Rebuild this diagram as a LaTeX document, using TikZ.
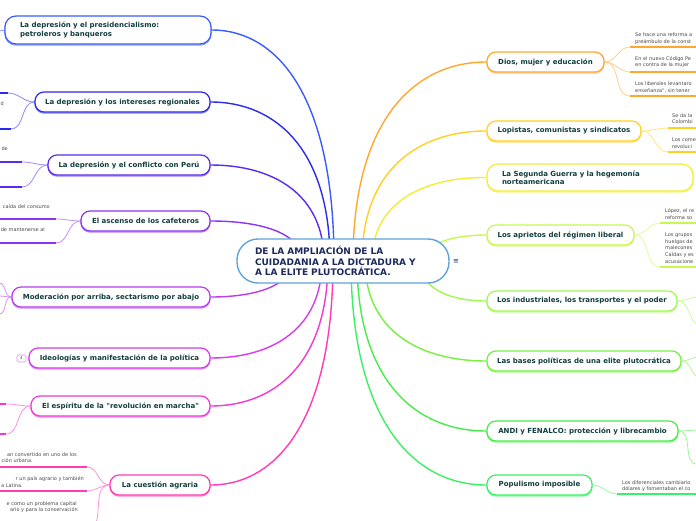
\documentclass[tikz,border=0pt]{standalone}
\usepackage{fontspec}
\setmainfont{DejaVu Sans}
\newfontfamily\dvs{DejaVu Sans}
\usetikzlibrary{calc}
\pgfdeclarelayer{bg}
\pgfsetlayers{bg,main}
\definecolor{txt}{HTML}{123E3E}
\definecolor{navy}{HTML}{1C2A5E}
\definecolor{subtxt}{HTML}{4A4A4A}
\definecolor{cC}{HTML}{5FA3DC}
\definecolor{cLa}{HTML}{3A5CFF}
\definecolor{cLb}{HTML}{2B2BEE}
\definecolor{cLc}{HTML}{5A2BEE}
\definecolor{cLd}{HTML}{8A35F0}
\definecolor{cLe}{HTML}{B83CF0}
\definecolor{cLf}{HTML}{D83AF0}
\definecolor{cLg}{HTML}{F03AD8}
\definecolor{cLh}{HTML}{FF3CB4}
\definecolor{cRa}{HTML}{FFA830}
\definecolor{cRb}{HTML}{FFD020}
\definecolor{cRc}{HTML}{F4EC3A}
\definecolor{cRd}{HTML}{C8F850}
\definecolor{cRe}{HTML}{A0F850}
\definecolor{cRf}{HTML}{78F040}
\definecolor{cRg}{HTML}{48EC48}
\definecolor{cRh}{HTML}{3CF064}
\tikzset{
  mn/.style={draw=#1, line width=1.2pt, rounded corners=9pt, fill=white, inner sep=0pt,
    minimum height=20pt, text=txt, font=\dvs\bfseries\fontsize{7}{8.3}\selectfont,
    preaction={draw=#1!60, line width=1.3pt, transform canvas={yshift=-1pt}}},
  twoline/.style={text width=176pt, align=left, inner xsep=15pt, minimum height=28pt, rounded corners=11pt},
  cn/.style={draw=#1, line width=1.4pt},
  sc/.style={draw=#1!55, line width=0.8pt},
  ul/.style={draw=#1, line width=1.8pt},
  st/.style={text=subtxt, font=\dvs\fontsize{5}{6.3}\selectfont, inner sep=0pt},
}
\begin{document}
\begin{tikzpicture}[x=1pt,y=-1pt]
\useasboundingbox (0,0) rectangle (696,520);

% central node
\node[draw=cC, line width=1.4pt, rounded corners=21pt, fill=white, minimum width=212pt,
  minimum height=44pt, text width=176pt, inner xsep=18pt, inner ysep=0pt, align=left,
  font=\dvs\bfseries\fontsize{9}{10.8}\selectfont, text=navy] (C) at (343,261)
  {DE LA AMPLIACIÓN DE LA\\CUIDADANIA A LA DICTADURA Y\\A LA ELITE PLUTOCRÁTICA.};
\node[text=navy, font=\dvs\fontsize{7}{7}\selectfont, inner sep=0pt] (menu) at (456,262) {≡};

% left main nodes
\node[mn=cLa, twoline] (L1) at (108,30) {La depresión y el presidencialismo:\\petroleros y banqueros};
\node[mn=cLb, minimum width=175pt] (L2) at (122.5,102) {La depresión y los intereses regionales};
\node[mn=cLc, minimum width=162pt] (L3) at (129,165) {La depresión y el conflicto con Perú};
\node[mn=cLd, minimum width=129pt] (L4) at (145.5,221) {El ascenso de los cafeteros};
\node[mn=cLe, minimum width=198pt] (L5) at (111,297) {Moderación por arriba, sectarismo por abajo};
\node[mn=cLf, minimum width=181pt] (L6) at (119.5,358) {Ideologías y manifestación de la política};
\node[mn=cLg, minimum width=179pt] (L7) at (120.5,406) {El espíritu de la "revolución en marcha"};
\node[mn=cLh, minimum width=100pt] (L8) at (160,485) {La cuestión agraria};
\node[draw=cLf!60, line width=0.6pt, rounded corners=1.5pt, minimum width=9pt, minimum height=7pt,
  inner sep=0pt, font=\dvs\fontsize{4}{4}\selectfont, text=subtxt] (n4) at (21.5,358.5) {4};

% right main nodes
\node[mn=cRa, minimum width=117pt] (R1) at (545.5,62) {Dios, mujer y educación};
\node[mn=cRb, minimum width=154pt] (R2) at (564,131) {Lopistas, comunistas y sindicatos};
\node[mn=cRc, twoline, minimum height=27pt] (R3) at (590,177.5) {La Segunda Guerra y la hegemonía\\norteamericana};
\node[mn=cRd, minimum width=147pt] (R4) at (560.5,235) {Los aprietos del régimen liberal};
\node[mn=cRe, minimum width=190pt] (R5) at (582,301) {Los industriales, los transportes y el poder};
\node[mn=cRf, minimum width=194pt] (R6) at (584,361) {Las bases políticas de una elite plutocrática};
\node[mn=cRg, minimum width=191pt] (R7) at (582.5,431) {ANDI y FENALCO: protección y librecambio};
\node[mn=cRh, minimum width=105pt] (R8) at (539.5,485) {Populismo imposible};

% sub-topic texts, left
\node[st, anchor=base east] (tl2) at (4,105) {d};
\node[st, anchor=base east] (tl3) at (8,150) {de};
\node[st, anchor=base east] (tl4a) at (50,208) {caída del consumo};
\node[st, anchor=base east] (tl4b) at (45,231) {de mantenerse al};
\node[st, anchor=base east] (tl8a) at (77,456) {an convertido en uno de los};
\node[st, anchor=base east] (tl8b) at (33,462) {ción urbana.};
\node[st, anchor=base east] (tl8c) at (84,480) {r un país agrario y también};
\node[st, anchor=base east] (tl8d) at (23,487) {a Latina.};
\node[st, anchor=base east] (tl8e) at (77,505) {e como un problema capital};
\node[st, anchor=base east] (tl8f) at (78,511) {ario y para la conservación};

% sub-topic texts, right
\node[st, anchor=base west] (tr1a) at (635,36) {Se hace una reforma a};
\node[st, anchor=base west] (tr1b) at (635,43) {preámbulo de la const};
\node[st, anchor=base west] (tr1c) at (635,60) {En el nuevo Código Pe};
\node[st, anchor=base west] (tr1d) at (635,66) {en contra de la mujer};
\node[st, anchor=base west] (tr1e) at (635,85) {Los liberales levantaro};
\node[st, anchor=base west] (tr1f) at (635,92) {enseñanza", sin tener};
\node[st, anchor=base west] (tr2a) at (672,117) {Se da la};
\node[st, anchor=base west] (tr2b) at (672,123) {Colombi};
\node[st, anchor=base west] (tr2c) at (672,141) {Los come};
\node[st, anchor=base west] (tr2d) at (672,148) {revoluci};
\node[st, anchor=base west] (tr4a) at (665,212) {López, el re};
\node[st, anchor=base west] (tr4b) at (665,219) {reforma so};
\node[st, anchor=base west] (tr4c) at (665,236) {Los grupos};
\node[st, anchor=base west] (tr4d) at (665,243) {huelgas de};
\node[st, anchor=base west] (tr4e) at (665,249) {malecones};
\node[st, anchor=base west] (tr4f) at (665,256) {Caldas y es};
\node[st, anchor=base west] (tr4g) at (665,263) {acusacione};
\node[st, anchor=base west] (tr8a) at (622,484) {Los diferenciales cambiario};
\node[st, anchor=base west] (tr8b) at (622,490) {dólares y fomentaban el co};

% coordinates
\coordinate (s1) at (334,261); \coordinate (s2) at (330,261);
\coordinate (s3) at (324,261); \coordinate (s4) at (302,261);
\coordinate (s5) at (292,261); \coordinate (s6) at (322,261);
\coordinate (s7) at (328,261); \coordinate (s8) at (333,261);
\coordinate (q1) at (353,261); \coordinate (q2) at (362,261);
\coordinate (q3) at (372,261); \coordinate (q4) at (425,261);
\coordinate (q5) at (420,261); \coordinate (q6) at (365,261);
\coordinate (q7) at (357,261); \coordinate (q8) at (351,261);

\coordinate (l1x) at (-2,30);
\coordinate (l2a) at (8,93); \coordinate (l2b) at (11,129);
\coordinate (l3a) at (22,162); \coordinate (l3b) at (22,187);
\coordinate (l4a) at (56,219); \coordinate (l4b) at (56,243);
\coordinate (l5a) at (-1,283); \coordinate (l5b) at (-1,296); \coordinate (l5c) at (-1,314);
\coordinate (l7a) at (6,404); \coordinate (l7b) at (6,434);
\coordinate (l8a) at (87,467); \coordinate (l8b) at (87,491); \coordinate (l8c) at (87,530);
\coordinate (r1a) at (630,47); \coordinate (r1b) at (630,72); \coordinate (r1c) at (630,96);
\coordinate (r2a) at (668,128); \coordinate (r2b) at (668,152);
\coordinate (r4a) at (660,223); \coordinate (r4b) at (660,267);
\coordinate (r5a) at (699,297); \coordinate (r5b) at (701,325);
\coordinate (r6a) at (699,357); \coordinate (r6b) at (701,378);
\coordinate (r7a) at (699,430); \coordinate (r7b) at (697,464);
\coordinate (r8a) at (617,494);

\begin{pgfonlayer}{bg}
\fill[white] (0,0) rectangle (696,520);
% main connectors
\draw[cn=cLa] (s1) .. controls (334,99) and (279,30) .. (L1.east);
\draw[cn=cLb] (s2) .. controls (330,150) and (276,102) .. (L2.east);
\draw[cn=cLc] (s3) .. controls (324,194) and (273,165) .. (L3.east);
\draw[cn=cLd] (s4) .. controls (302,233) and (261,221) .. (L4.east);
\draw[cn=cLe] (s5) .. controls (292,286) and (255,297) .. (L5.east);
\draw[cn=cLf] (s6) .. controls (322,329) and (272,358) .. (L6.east);
\draw[cn=cLg] (s7) .. controls (328,363) and (275,406) .. (L7.east);
\draw[cn=cLh] (s8) .. controls (333,418) and (278,485) .. (L8.east);
\draw[cn=cRa] (q1) .. controls (353,122) and (413,62) .. (R1.west);
\draw[cn=cRb] (q2) .. controls (362,170) and (418,131) .. (R2.west);
\draw[cn=cRc] (q3) .. controls (372,202) and (424,177) .. (R3.west);
\draw[cn=cRd] (q4) .. controls (425,243) and (453,235) .. (R4.west);
\draw[cn=cRe] (q5) .. controls (420,289) and (450,301) .. (R5.west);
\draw[cn=cRf] (q6) .. controls (365,331) and (420,361) .. (R6.west);
\draw[cn=cRg] (q7) .. controls (357,380) and (415,431) .. (R7.west);
\draw[cn=cRh] (q8) .. controls (351,418) and (412,485) .. (R8.west);

% sub connectors, left
\draw[sc=cLa] (L1.west) -- (l1x);
\draw[sc=cLb] (L2.west) to[out=180,in=0] (l2a);
\draw[sc=cLb] (L2.west) to[out=180,in=0] (l2b);
\draw[ul=cLb] (l2a) -- +(-12,0);
\draw[ul=cLb] (l2b) -- +(-14,0);
\draw[sc=cLc] (L3.west) to[out=180,in=0] (l3a);
\draw[sc=cLc] (L3.west) to[out=180,in=0] (l3b);
\draw[ul=cLc] (l3a) -- +(-26,0);
\draw[ul=cLc] (l3b) -- +(-26,0);
\draw[sc=cLd] (L4.west) to[out=180,in=0] (l4a);
\draw[sc=cLd] (L4.west) to[out=180,in=0] (l4b);
\draw[ul=cLd] (l4a) -- +(-60,0);
\draw[ul=cLd] (l4b) -- +(-60,0);
\draw[sc=cLe] (L5.west) to[out=180,in=0] (l5a);
\draw[sc=cLe] (L5.west) to[out=180,in=0] (l5b);
\draw[sc=cLe] (L5.west) to[out=180,in=0] (l5c);
\draw[sc=cLg] (L7.west) to[out=180,in=0] (l7a);
\draw[sc=cLg] (L7.west) to[out=180,in=0] (l7b);
\draw[ul=cLg] (l7a) -- +(-10,0);
\draw[ul=cLg] (l7b) -- +(-10,0);
\draw[sc=cLh] (L8.west) to[out=180,in=0] (l8a);
\draw[sc=cLh] (L8.west) to[out=180,in=0] (l8b);
\draw[sc=cLh] (L8.west) to[out=180,in=0] (l8c);
\draw[ul=cLh] (l8a) -- +(-90,0);
\draw[ul=cLh] (l8b) -- +(-90,0);

% sub connectors, right
\draw[sc=cRa] (R1.east) to[out=0,in=180] (r1a);
\draw[sc=cRa] (R1.east) to[out=0,in=180] (r1b);
\draw[sc=cRa] (R1.east) to[out=0,in=180] (r1c);
\draw[ul=cRa] (r1a) -- +(70,0);
\draw[ul=cRa] (r1b) -- +(70,0);
\draw[ul=cRa] (r1c) -- +(70,0);
\draw[sc=cRb] (R2.east) to[out=0,in=180] (r2a);
\draw[sc=cRb] (R2.east) to[out=0,in=180] (r2b);
\draw[ul=cRb] (r2a) -- +(32,0);
\draw[ul=cRb] (r2b) -- +(32,0);
\draw[sc=cRd] (R4.east) to[out=0,in=180] (r4a);
\draw[sc=cRd] (R4.east) to[out=0,in=180] (r4b);
\draw[ul=cRd] (r4a) -- +(40,0);
\draw[ul=cRd] (r4b) -- +(40,0);
\draw[sc=cRe] (R5.east) to[out=0,in=180] (r5a);
\draw[sc=cRe] (R5.east) to[out=0,in=180] (r5b);
\draw[sc=cRf] (R6.east) to[out=0,in=180] (r6a);
\draw[sc=cRf] (R6.east) to[out=0,in=180] (r6b);
\draw[sc=cRg] (R7.east) to[out=0,in=180] (r7a);
\draw[sc=cRg] (R7.east) to[out=0,in=180] (r7b);
\draw[sc=cRh] (R8.east) to[out=0,in=180] (r8a);
\draw[ul=cRh] (r8a) -- +(82,0);
\end{pgfonlayer}
\end{tikzpicture}
\end{document}
